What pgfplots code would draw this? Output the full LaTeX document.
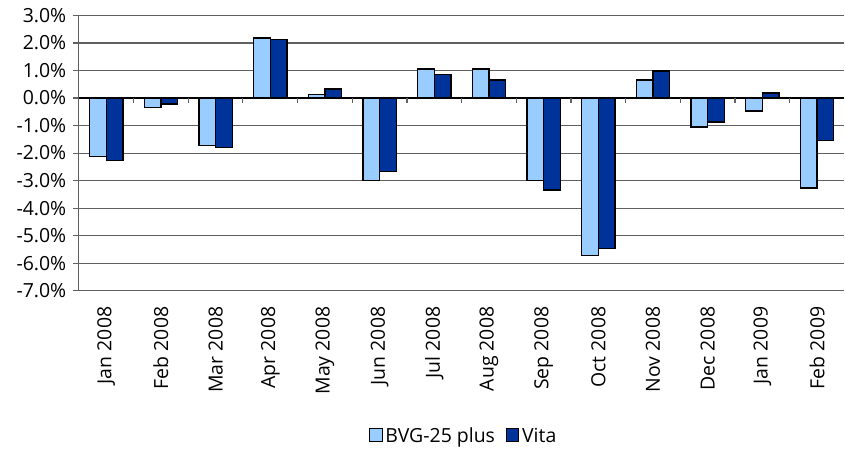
\documentclass[border=0pt]{standalone}
\usepackage{pgfplots}
\pgfplotsset{compat=1.18}
\usetikzlibrary{calc}
\usepackage{fontspec}
\setmainfont{Open Sans}
\definecolor{lblue}{HTML}{99CCFF}
\definecolor{dblue}{HTML}{003399}
\definecolor{gridc}{HTML}{606060}
\begin{document}
\begin{tikzpicture}
\begin{axis}[
  name=ax,
  scale only axis,
  width=574.5pt, height=206.6pt,
  ybar=0pt, bar width=12.5pt,
  xmin=-0.5, xmax=13.5,
  ymin=-7, ymax=3,
  ytick={-7,-6,...,3},
  xtick={0,...,13},
  xticklabels={Jan 2008,Feb 2008,Mar 2008,Apr 2008,May 2008,Jun 2008,Jul 2008,Aug 2008,Sep 2008,Oct 2008,Nov 2008,Dec 2008,Jan 2009,Feb 2009},
  xticklabel style={rotate=90, anchor=east, font=\fontsize{14.6}{16}\selectfont},
  xticklabel shift=4pt,
  yticklabel style={font=\fontsize{14.6}{16}\selectfont},
  yticklabel shift=1.5pt,
  yticklabel={\pgfmathprintnumber[fixed,fixed zerofill,precision=1]{\tick}\%},
  /pgf/number format/assume math mode=true,
  axis y line*=left, axis x line*=bottom,
  axis line style={gridc, line width=0.8pt},
  ymajorgrids, major grid style={gridc, line width=0.8pt},
  x tick style={draw=none},
  y tick style={gridc, line width=0.8pt},
  tick align=outside, major tick length=4.5pt,
  legend style={at={(0.503,-0.53)}, anchor=center, draw=none, legend columns=2, font=\fontsize{14.6}{16}\selectfont,
    /tikz/every even column/.append style={column sep=6pt}},
  legend image code/.code={\draw[#1, line width=0.9pt] (0pt,-3.5pt) rectangle (9.5pt,6pt);},
  clip=false,
]
\addplot[fill=lblue, draw=black, line width=1.1pt] coordinates {
(0,-2.13) (1,-0.34) (2,-1.73) (3,2.18) (4,0.13) (5,-3.00) (6,1.05) (7,1.05) (8,-3.00) (9,-5.73) (10,0.65) (11,-1.06) (12,-0.47) (13,-3.27)};
\addplot[fill=dblue, draw=black, line width=1.1pt] coordinates {
(0,-2.26) (1,-0.21) (2,-1.80) (3,2.12) (4,0.33) (5,-2.67) (6,0.86) (7,0.65) (8,-3.34) (9,-5.47) (10,0.99) (11,-0.87) (12,0.19) (13,-1.54)};
\legend{BVG-25 plus, Vita}
\draw[black, line width=0.9pt] (axis cs:-0.5,0) -- (axis cs:13.5,0);
\pgfplotsinvokeforeach{0.5,1.5,2.5,3.5,4.5,5.5,6.5,7.5,8.5,9.5,10.5,11.5,12.5}{
  \draw[gridc, line width=0.8pt] (axis cs:#1,0) -- (axis cs:#1,-0.17);
}
\end{axis}
\pgfresetboundingbox
\path[use as bounding box] ($(ax.south west)+(-59.25pt,-119.25pt)$) rectangle ($(ax.north east)+(0.5pt,11.6pt)$);
\end{tikzpicture}
\end{document}
